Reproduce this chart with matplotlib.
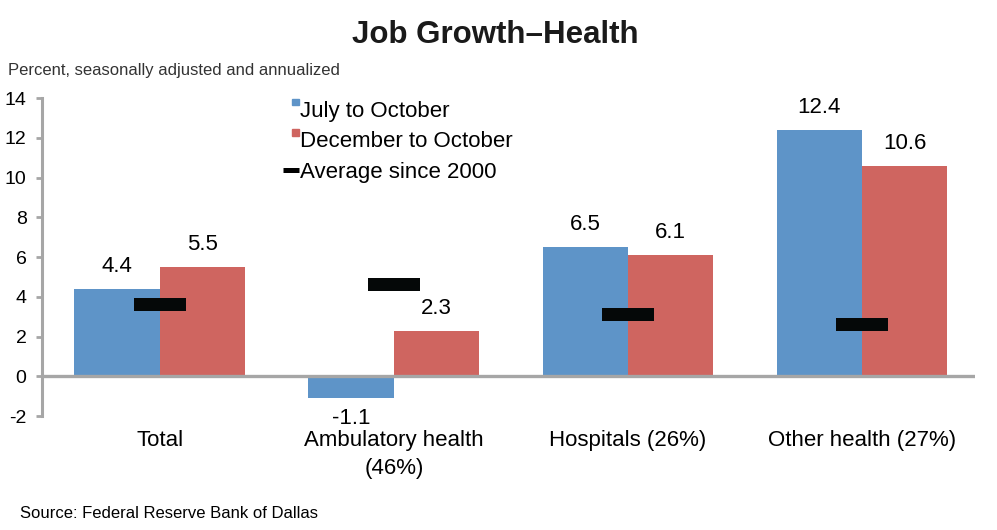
import numpy as np
import matplotlib
matplotlib.use("Agg")
import matplotlib.pyplot as plt
from matplotlib.patches import Patch, Rectangle
from matplotlib.lines import Line2D
from matplotlib.legend_handler import HandlerPatch

plt.rcParams['font.family'] = ['Liberation Sans', 'DejaVu Sans']
plt.rcParams['axes.unicode_minus'] = False

# data
categories = ["Total", "Ambulatory health\n(46%)", "Hospitals (26%)", "Other health (27%)"]
july_oct = [4.4, -1.1, 6.5, 12.4]
dec_oct = [5.5, 2.3, 6.1, 10.6]
avg_2000 = [3.6, 4.6, 3.1, 2.6]

blue = '#5E94C8'
red = '#CF6560'
grey = '#A6A6A6'

fig = plt.figure(figsize=(9.97, 5.3), dpi=100)
ax = fig.add_axes([0.042, 0.215, 0.936, 0.6])

x = np.arange(len(categories))
w = 0.365
ax.bar(x - w / 2, july_oct, w, color=blue)
ax.bar(x + w / 2, dec_oct, w, color=red)
# average markers drawn as short thick bars
mh = 0.66
ax.bar(x, [mh] * len(x), 0.22, bottom=np.array(avg_2000) - mh / 2, color='#050808', zorder=3)

# value labels
for xi, v in zip(x - w / 2, july_oct):
    if v >= 0:
        ax.annotate(f"{v}", (xi, v), xytext=(0, 12), textcoords='offset points',
                    ha='center', va='baseline', fontsize=16)
    else:
        ax.annotate(f"{v}", (xi, v), xytext=(0, -7), textcoords='offset points',
                    ha='center', va='top', fontsize=16)
for xi, v in zip(x + w / 2, dec_oct):
    ax.annotate(f"{v}", (xi, v), xytext=(0, 12), textcoords='offset points',
                ha='center', va='baseline', fontsize=16)

ax.set_ylim(-2, 14)
ax.set_xlim(-0.504, 3.483)
ax.set_yticks(range(-2, 15, 2))
ax.set_xticks(x)
ax.set_xticklabels(categories, fontsize=16, linespacing=1.45)
ax.tick_params(axis='x', length=0, pad=10)
ax.tick_params(axis='y', direction='out', length=4, width=2, color=grey, labelsize=14, pad=7)

for s in ['top', 'right', 'bottom']:
    ax.spines[s].set_visible(False)
ax.spines['left'].set_color(grey)
ax.spines['left'].set_linewidth(2.2)
ax.axhline(0, color=grey, lw=2.4, zorder=2)


def small_square(legend, orig_handle, xdescent, ydescent, width, height, fontsize):
    s = 4.5
    return Rectangle((-xdescent + width - s, -ydescent + height - s * 0.6), s, s)


handles = [Patch(color=blue), Patch(color=red),
           Line2D([0], [0], color='black', lw=3.6, solid_capstyle='butt')]
labels = ['July to October', 'December to October', 'Average since 2000']
ax.legend(handles, labels, loc='upper left', bbox_to_anchor=(283 / 997, 1 - 101 / 530),
          bbox_transform=fig.transFigure, frameon=False, fontsize=16,
          handlelength=0.7, handleheight=0.7, handletextpad=0.05,
          labelspacing=0.42, borderpad=0, borderaxespad=0,
          handler_map={Patch: HandlerPatch(patch_func=small_square)})

fig.text(495 / 997, 1 - 35 / 530, "Job Growth\u2013Health", ha='center', va='center',
         fontsize=22.5, fontweight='bold', color='#1a1a1a')
fig.text(8 / 997, 1 - 70 / 530, "Percent, seasonally adjusted and annualized",
         ha='left', va='center', fontsize=12, color='#333333')
fig.text(20 / 997, 1 - 513 / 530, "Source: Federal Reserve Bank of Dallas",
         ha='left', va='center', fontsize=12)

fig.savefig('out.png', dpi=100)
